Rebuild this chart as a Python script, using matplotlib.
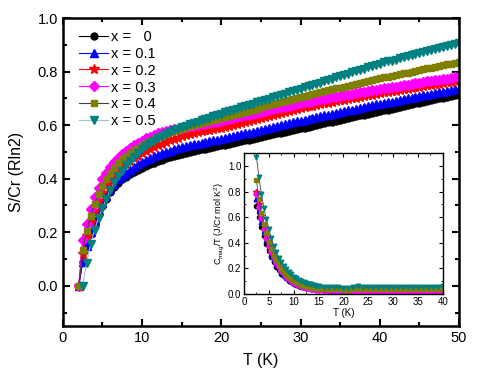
import numpy as np
import matplotlib
matplotlib.use("Agg")
import matplotlib.pyplot as plt
from matplotlib.ticker import MultipleLocator

plt.rcParams["font.family"] = ["Liberation Sans", "DejaVu Sans"]
plt.rcParams["mathtext.default"] = "regular"

# ---- main panel: S/Cr (Rln2) vs T, 0.5 K steps ----
t_main = np.arange(2.0, 50.01, 0.5)

s_x00 = [0.000, 0.090, 0.148, 0.195, 0.235, 0.268, 0.297, 0.325, 0.350, 0.368,
         0.384, 0.397, 0.407, 0.417, 0.426, 0.434, 0.441, 0.448, 0.454, 0.460,
         0.466, 0.471, 0.476, 0.480, 0.484, 0.488, 0.492, 0.496, 0.499, 0.502,
         0.506, 0.509, 0.512, 0.515, 0.518, 0.521, 0.524, 0.527, 0.530, 0.533,
         0.537, 0.540, 0.543, 0.546, 0.549, 0.553, 0.556, 0.559, 0.562, 0.565,
         0.569, 0.572, 0.575, 0.578, 0.581, 0.585, 0.588, 0.591, 0.594, 0.597,
         0.601, 0.604, 0.607, 0.610, 0.613, 0.617, 0.620, 0.623, 0.626, 0.629,
         0.633, 0.636, 0.639, 0.642, 0.645, 0.649, 0.652, 0.655, 0.658, 0.661,
         0.665, 0.668, 0.671, 0.674, 0.677, 0.681, 0.684, 0.687, 0.690, 0.693,
         0.697, 0.700, 0.703, 0.706, 0.709, 0.712, 0.715]

s_x01 = [0.000, 0.088, 0.150, 0.200, 0.242, 0.278, 0.308, 0.336, 0.360, 0.380,
         0.397, 0.411, 0.423, 0.434, 0.444, 0.453, 0.461, 0.469, 0.476, 0.483,
         0.489, 0.495, 0.500, 0.505, 0.510, 0.514, 0.518, 0.522, 0.525, 0.528,
         0.531, 0.534, 0.537, 0.540, 0.543, 0.545, 0.548, 0.551, 0.555, 0.558,
         0.562, 0.565, 0.569, 0.572, 0.576, 0.579, 0.582, 0.586, 0.589, 0.593,
         0.596, 0.600, 0.603, 0.607, 0.610, 0.614, 0.617, 0.620, 0.623, 0.626,
         0.630, 0.633, 0.636, 0.639, 0.642, 0.645, 0.649, 0.652, 0.655, 0.658,
         0.661, 0.664, 0.667, 0.671, 0.674, 0.677, 0.680, 0.683, 0.686, 0.688,
         0.691, 0.694, 0.697, 0.700, 0.702, 0.705, 0.708, 0.711, 0.714, 0.716,
         0.719, 0.722, 0.725, 0.728, 0.730, 0.733, 0.736]

s_x02 = [0.000, 0.120, 0.185, 0.238, 0.280, 0.315, 0.345, 0.371, 0.393, 0.412,
         0.428, 0.442, 0.455, 0.466, 0.476, 0.485, 0.494, 0.502, 0.510, 0.517,
         0.524, 0.531, 0.537, 0.543, 0.548, 0.553, 0.558, 0.562, 0.566, 0.570,
         0.573, 0.577, 0.580, 0.583, 0.585, 0.588, 0.590, 0.594, 0.597, 0.601,
         0.605, 0.608, 0.612, 0.616, 0.620, 0.623, 0.627, 0.631, 0.634, 0.638,
         0.642, 0.646, 0.649, 0.653, 0.657, 0.660, 0.664, 0.667, 0.670, 0.672,
         0.675, 0.678, 0.681, 0.684, 0.686, 0.689, 0.692, 0.695, 0.698, 0.700,
         0.703, 0.706, 0.709, 0.712, 0.714, 0.717, 0.720, 0.722, 0.725, 0.727,
         0.729, 0.732, 0.734, 0.736, 0.739, 0.741, 0.743, 0.746, 0.748, 0.750,
         0.753, 0.755, 0.757, 0.760, 0.762, 0.764, 0.767]

s_x03 = [0.000, 0.170, 0.232, 0.285, 0.330, 0.367, 0.397, 0.421, 0.443, 0.462,
         0.478, 0.492, 0.504, 0.515, 0.525, 0.534, 0.542, 0.550, 0.557, 0.564,
         0.570, 0.574, 0.578, 0.581, 0.584, 0.587, 0.590, 0.593, 0.596, 0.598,
         0.601, 0.603, 0.606, 0.608, 0.611, 0.613, 0.616, 0.619, 0.622, 0.626,
         0.629, 0.633, 0.636, 0.639, 0.643, 0.646, 0.649, 0.653, 0.656, 0.659,
         0.663, 0.666, 0.669, 0.673, 0.676, 0.680, 0.683, 0.686, 0.688, 0.691,
         0.693, 0.696, 0.699, 0.701, 0.704, 0.706, 0.709, 0.712, 0.714, 0.717,
         0.719, 0.722, 0.725, 0.727, 0.730, 0.732, 0.735, 0.737, 0.740, 0.742,
         0.744, 0.747, 0.749, 0.751, 0.753, 0.756, 0.758, 0.760, 0.763, 0.765,
         0.767, 0.770, 0.772, 0.774, 0.776, 0.779, 0.781]

s_x04 = [0.000, 0.135, 0.205, 0.260, 0.305, 0.342, 0.372, 0.398, 0.420, 0.440,
         0.457, 0.472, 0.485, 0.496, 0.506, 0.516, 0.525, 0.533, 0.541, 0.548,
         0.555, 0.561, 0.567, 0.573, 0.578, 0.583, 0.587, 0.592, 0.596, 0.600,
         0.604, 0.608, 0.612, 0.616, 0.620, 0.623, 0.627, 0.631, 0.635, 0.639,
         0.643, 0.647, 0.650, 0.654, 0.658, 0.662, 0.666, 0.670, 0.674, 0.678,
         0.682, 0.686, 0.689, 0.693, 0.697, 0.701, 0.705, 0.709, 0.712, 0.716,
         0.719, 0.723, 0.726, 0.730, 0.733, 0.737, 0.740, 0.744, 0.747, 0.751,
         0.754, 0.758, 0.761, 0.765, 0.768, 0.772, 0.775, 0.778, 0.781, 0.784,
         0.787, 0.790, 0.793, 0.796, 0.799, 0.802, 0.806, 0.809, 0.812, 0.815,
         0.818, 0.821, 0.824, 0.827, 0.830, 0.833, 0.836]

# x = 0.5 starts at 2.5 K
s_x05 = [0.000, 0.085, 0.155, 0.210, 0.252, 0.290, 0.325, 0.358, 0.386,
         0.410, 0.430, 0.450, 0.467, 0.482, 0.496, 0.509, 0.521, 0.532, 0.542,
         0.552, 0.560, 0.567, 0.574, 0.580, 0.586, 0.592, 0.598, 0.603, 0.608,
         0.613, 0.618, 0.623, 0.628, 0.633, 0.638, 0.643, 0.648, 0.652, 0.657,
         0.661, 0.666, 0.671, 0.675, 0.680, 0.685, 0.690, 0.694, 0.699, 0.704,
         0.708, 0.713, 0.717, 0.722, 0.727, 0.731, 0.736, 0.741, 0.745, 0.750,
         0.755, 0.759, 0.764, 0.769, 0.774, 0.778, 0.783, 0.788, 0.792, 0.797,
         0.802, 0.806, 0.811, 0.816, 0.821, 0.825, 0.830, 0.834, 0.838, 0.841,
         0.845, 0.849, 0.853, 0.857, 0.860, 0.864, 0.868, 0.872, 0.876, 0.879,
         0.883, 0.887, 0.891, 0.895, 0.898, 0.902, 0.906]

# ---- inset: Cmag/T vs T ----
t_in = [2.5, 3.0, 3.5, 4.0, 4.5, 5.0, 5.5, 6.0, 6.5, 7.0, 7.5, 8.0, 8.5,
        9.0, 9.5, 10.0, 10.5, 11.0, 11.5, 12.0, 12.5, 13.0, 13.5, 14.0, 14.5,
        15.0, 16, 17, 18, 19, 20, 21, 22, 23, 24, 25, 26, 27, 28, 29, 30, 31,
        32, 33, 34, 35, 36, 37, 38, 39, 40]

c_x00 = [0.69, 0.60, 0.52, 0.45, 0.39, 0.335, 0.29, 0.25, 0.215, 0.185, 0.16,
         0.14, 0.122, 0.106, 0.093, 0.082, 0.073, 0.065, 0.058, 0.053, 0.048,
         0.045, 0.042, 0.039, 0.037, 0.035,
         0.032, 0.030, 0.029, 0.028, 0.027, 0.025, 0.030, 0.031, 0.031, 0.030,
         0.031, 0.031, 0.030, 0.031, 0.031, 0.030, 0.030, 0.031, 0.031, 0.030,
         0.030, 0.031, 0.031, 0.030, 0.031]
c_x01 = [0.74, 0.65, 0.565, 0.49, 0.425, 0.365, 0.315, 0.272, 0.235, 0.202,
         0.175, 0.152, 0.132, 0.115, 0.101, 0.089, 0.079, 0.070, 0.063, 0.057,
         0.052, 0.047, 0.044, 0.041, 0.038, 0.036,
         0.033, 0.031, 0.029, 0.028, 0.027, 0.025, 0.029, 0.030, 0.030, 0.029,
         0.030, 0.030, 0.029, 0.030, 0.030, 0.029, 0.029, 0.030, 0.030, 0.029,
         0.029, 0.030, 0.030, 0.029, 0.030]
c_x02 = [0.80, 0.70, 0.61, 0.53, 0.46, 0.395, 0.34, 0.293, 0.253, 0.218,
         0.188, 0.163, 0.142, 0.124, 0.109, 0.096, 0.085, 0.076, 0.068, 0.061,
         0.055, 0.050, 0.046, 0.043, 0.040, 0.037,
         0.034, 0.031, 0.029, 0.027, 0.025, 0.023, 0.026, 0.027, 0.027, 0.026,
         0.027, 0.027, 0.026, 0.027, 0.027, 0.026, 0.026, 0.027, 0.027, 0.026,
         0.026, 0.027, 0.027, 0.026, 0.027]
c_x03 = [0.78, 0.68, 0.59, 0.51, 0.44, 0.378, 0.325, 0.28, 0.241, 0.208,
         0.18, 0.156, 0.135, 0.118, 0.103, 0.090, 0.079, 0.070, 0.062, 0.055,
         0.049, 0.044, 0.040, 0.036, 0.033, 0.031,
         0.027, 0.024, 0.022, 0.020, 0.018, 0.016, 0.019, 0.020, 0.020, 0.019,
         0.020, 0.020, 0.019, 0.020, 0.020, 0.019, 0.019, 0.020, 0.020, 0.019,
         0.019, 0.020, 0.020, 0.019, 0.020]
c_x04 = [0.89, 0.74, 0.635, 0.55, 0.475, 0.41, 0.355, 0.307, 0.266, 0.23,
         0.199, 0.173, 0.151, 0.132, 0.116, 0.102, 0.091, 0.081, 0.073, 0.066,
         0.060, 0.055, 0.051, 0.048, 0.045, 0.043,
         0.040, 0.038, 0.037, 0.036, 0.035, 0.034, 0.037, 0.038, 0.038, 0.037,
         0.038, 0.038, 0.037, 0.038, 0.038, 0.037, 0.037, 0.038, 0.038, 0.037,
         0.037, 0.038, 0.038, 0.037, 0.038]
c_x05 = [1.07, 0.91, 0.78, 0.67, 0.585, 0.505, 0.435, 0.375, 0.325, 0.285,
         0.25, 0.22, 0.195, 0.172, 0.153, 0.137, 0.123, 0.111, 0.101, 0.093,
         0.086, 0.080, 0.075, 0.071, 0.067, 0.064,
         0.059, 0.056, 0.054, 0.052, 0.050, 0.051, 0.058, 0.060, 0.056, 0.055,
         0.055, 0.056, 0.058, 0.057, 0.055, 0.056, 0.057, 0.058, 0.056, 0.055,
         0.056, 0.058, 0.057, 0.058, 0.060]

labels = ["x =   0", "x = 0.1", "x = 0.2", "x = 0.3", "x = 0.4", "x = 0.5"]
mcolors = ["#000000", "#0000ff", "#ff0000", "#ff00ff", "#808000", "#008080"]
lcolors = ["#000000", "#0000ff", "#ff0000", "#ff00ff", "#404040", "#9cc8c8"]
markers = ["o", "^", "*", "D", "s", "v"]
msizes = [5, 5.5, 7, 5, 4.8, 5.5]

fig = plt.figure(figsize=(4.91, 3.79), dpi=100)
ax = fig.add_axes([0.128, 0.140, 0.807, 0.8125])

main_y = [s_x00, s_x01, s_x02, s_x03, s_x04, s_x05]
for i, y in enumerate(main_y):
    t = t_main if len(y) == len(t_main) else t_main[1:]
    ax.plot(t, y, color=lcolors[i], lw=0.8, marker=markers[i], ms=msizes[i],
            mfc=mcolors[i], mec=mcolors[i], label=labels[i])

ax.set_xlim(0, 50)
ax.set_ylim(-0.15, 1.0)
ax.xaxis.set_major_locator(MultipleLocator(10))
ax.xaxis.set_minor_locator(MultipleLocator(5))
ax.yaxis.set_major_locator(MultipleLocator(0.2))
ax.yaxis.set_minor_locator(MultipleLocator(0.1))
ax.yaxis.set_major_formatter(plt.FormatStrFormatter("%.1f"))
ax.tick_params(which="both", direction="in", top=True, right=True,
               labelsize=10.5, width=1.5)
ax.tick_params(which="major", length=5)
ax.tick_params(which="minor", length=3)
for sp in ax.spines.values():
    sp.set_linewidth(1.8)
ax.set_xlabel("T (K)", fontsize=11.5, labelpad=6)
ax.set_ylabel("S/Cr (Rln2)", fontsize=11.5, labelpad=10)
ax.legend(loc="upper left", bbox_to_anchor=(0.015, 0.995), frameon=False,
          fontsize=10.5, handlelength=2.0, handletextpad=0.2,
          labelspacing=0.2, borderaxespad=0.3)

# inset
axi = fig.add_axes([0.497, 0.224, 0.405, 0.372])
ins_y = [c_x00, c_x01, c_x02, c_x03, c_x04, c_x05]
for i, y in enumerate(ins_y):
    axi.plot(t_in, y, color=lcolors[i] if i < 4 else "#404040", lw=0.6,
             marker=markers[i], ms=msizes[i] * 0.6, mfc=mcolors[i],
             mec=mcolors[i])
axi.set_xlim(0, 40)
axi.set_ylim(0, 1.1)
axi.xaxis.set_major_locator(MultipleLocator(5))
axi.xaxis.set_minor_locator(MultipleLocator(2.5))
axi.yaxis.set_major_locator(MultipleLocator(0.2))
axi.yaxis.set_minor_locator(MultipleLocator(0.1))
axi.yaxis.set_major_formatter(plt.FormatStrFormatter("%.1f"))
axi.tick_params(which="both", direction="in", top=True, right=True,
                labelsize=7, pad=2)
axi.tick_params(which="major", length=3)
axi.tick_params(which="minor", length=1.5)
for sp in axi.spines.values():
    sp.set_linewidth(1.0)
axi.set_xlabel("T (K)", fontsize=7, labelpad=1)
axi.set_ylabel("C$_{mag}$/T (J/Cr mol K$^2$)", fontsize=6.5, labelpad=1)

fig.savefig("out.png", dpi=100)
